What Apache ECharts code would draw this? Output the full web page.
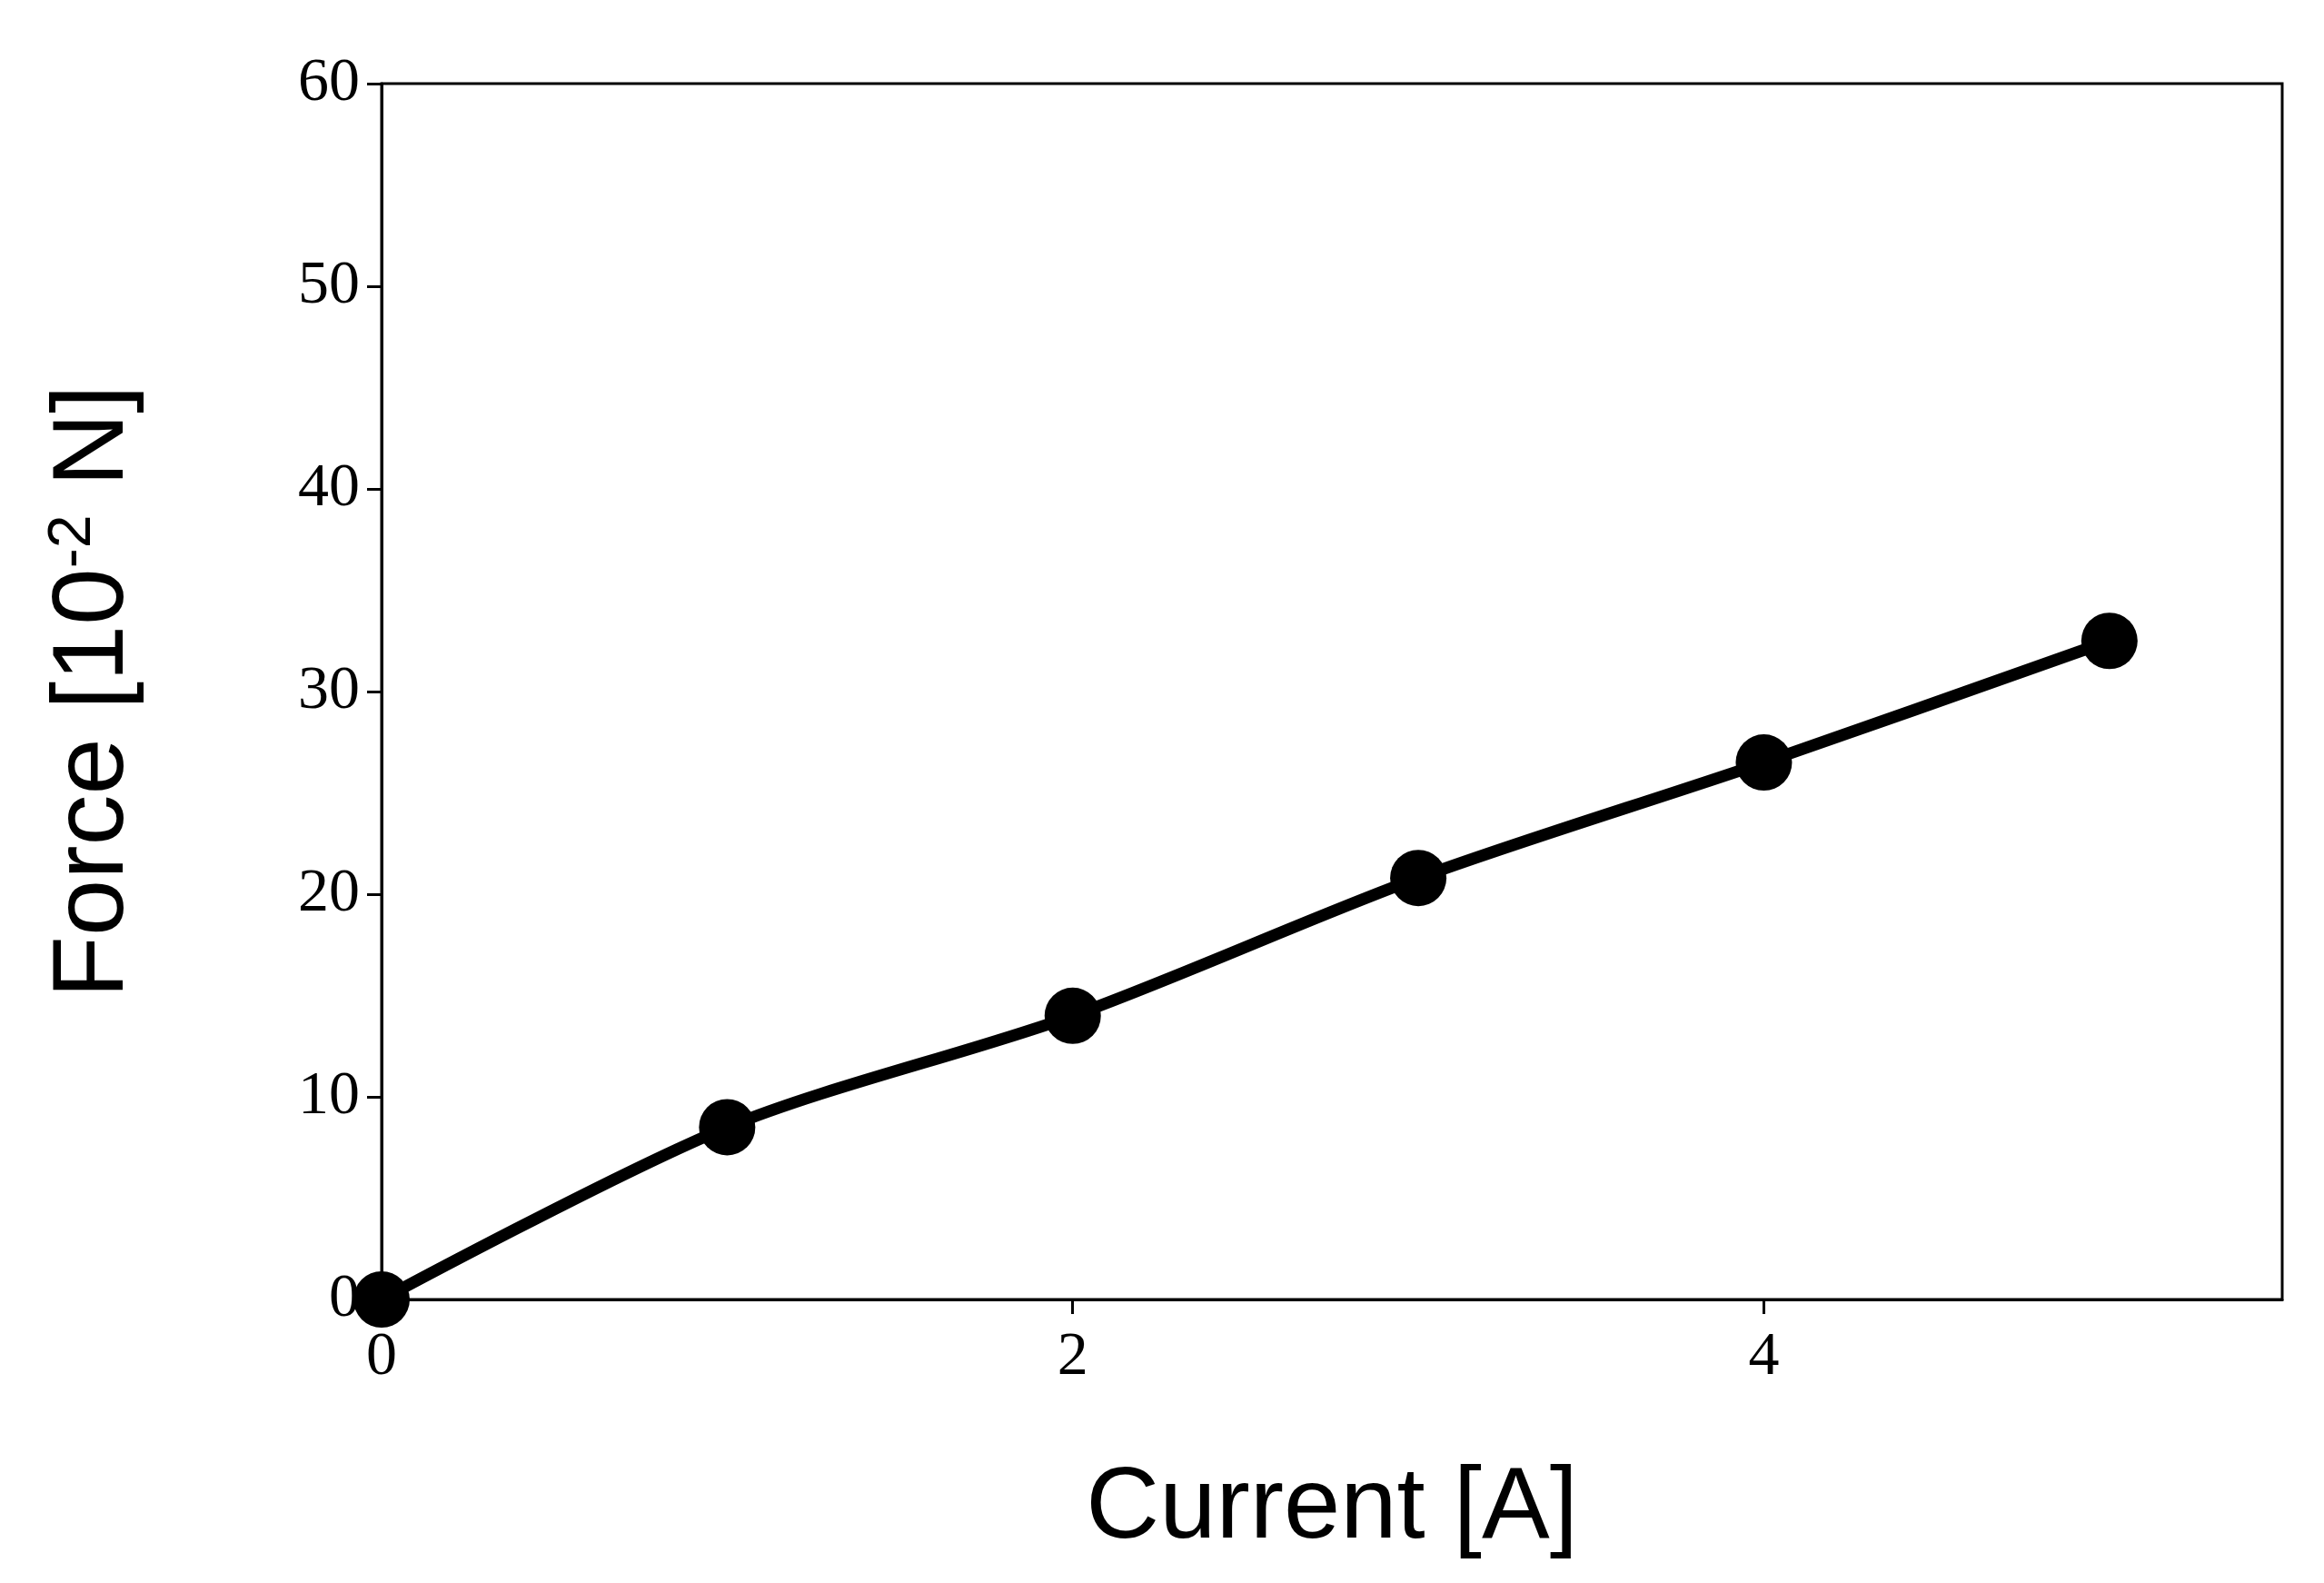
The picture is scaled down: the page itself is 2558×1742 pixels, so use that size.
<!DOCTYPE html>
<html>
<head>
<meta charset="utf-8">
<script src="https://cdn.jsdelivr.net/npm/echarts@6/dist/echarts.min.js"></script>
<style>html,body{margin:0;padding:0;background:#fff}#chart-container{width:2558px;height:1742px}</style>
</head>
<body>
<div id="chart-container"></div>
<script>
var current = [0, 1, 2, 3, 4, 5];
var force = [0, 8.5, 14, 20.8, 26.5, 32.5];
var xTicks = [0, 2, 4];

var dom = document.getElementById('chart-container');
var myChart = echarts.init(dom, null, { renderer: 'canvas' });

var option = {
  backgroundColor: '#fff',
  animation: false,
  grid: {
    left: 420, right: 46, top: 92, bottom: 312,
    show: true, borderColor: '#000', borderWidth: 3
  },
  xAxis: {
    type: 'value', min: 0, max: 5.5,
    name: 'Current [A]', nameLocation: 'middle', nameGap: 175,
    nameTextStyle: { fontFamily: 'Liberation Sans', fontSize: 112, color: '#000' },
    axisLine: { lineStyle: { color: '#000', width: 3 } },
    axisTick: { customValues: xTicks, length: 16, lineStyle: { color: '#000', width: 3 } },
    axisLabel: { customValues: xTicks, margin: 30, fontFamily: 'Liberation Serif', fontSize: 68, color: '#000' },
    splitLine: { show: false }
  },
  yAxis: {
    type: 'value', min: 0, max: 60, interval: 10,
    name: 'Force [10{s|-2} N]', nameLocation: 'middle', nameGap: 260, nameRotate: 90,
    nameTextStyle: {
      fontFamily: 'Liberation Sans', fontSize: 112, color: '#000',
      rich: { s: { fontFamily: 'Liberation Sans', fontSize: 66, color: '#000', verticalAlign: 'top', padding: [0, 0, 40, 0] } }
    },
    axisLine: { lineStyle: { color: '#000', width: 3 } },
    axisTick: { length: 16, lineStyle: { color: '#000', width: 3 } },
    axisLabel: { margin: 24, fontFamily: 'Liberation Serif', fontSize: 68, color: '#000' },
    splitLine: { show: false }
  },
  series: [{
    type: 'line',
    smooth: 0.3,
    data: current.map(function (c, i) { return [c, force[i]]; }),
    symbol: 'circle', symbolSize: 62,
    lineStyle: { color: '#000', width: 13 },
    itemStyle: { color: '#000' }
  }]
};
myChart.setOption(option);
window.addEventListener('resize', myChart.resize);
</script>
</body>
</html>
